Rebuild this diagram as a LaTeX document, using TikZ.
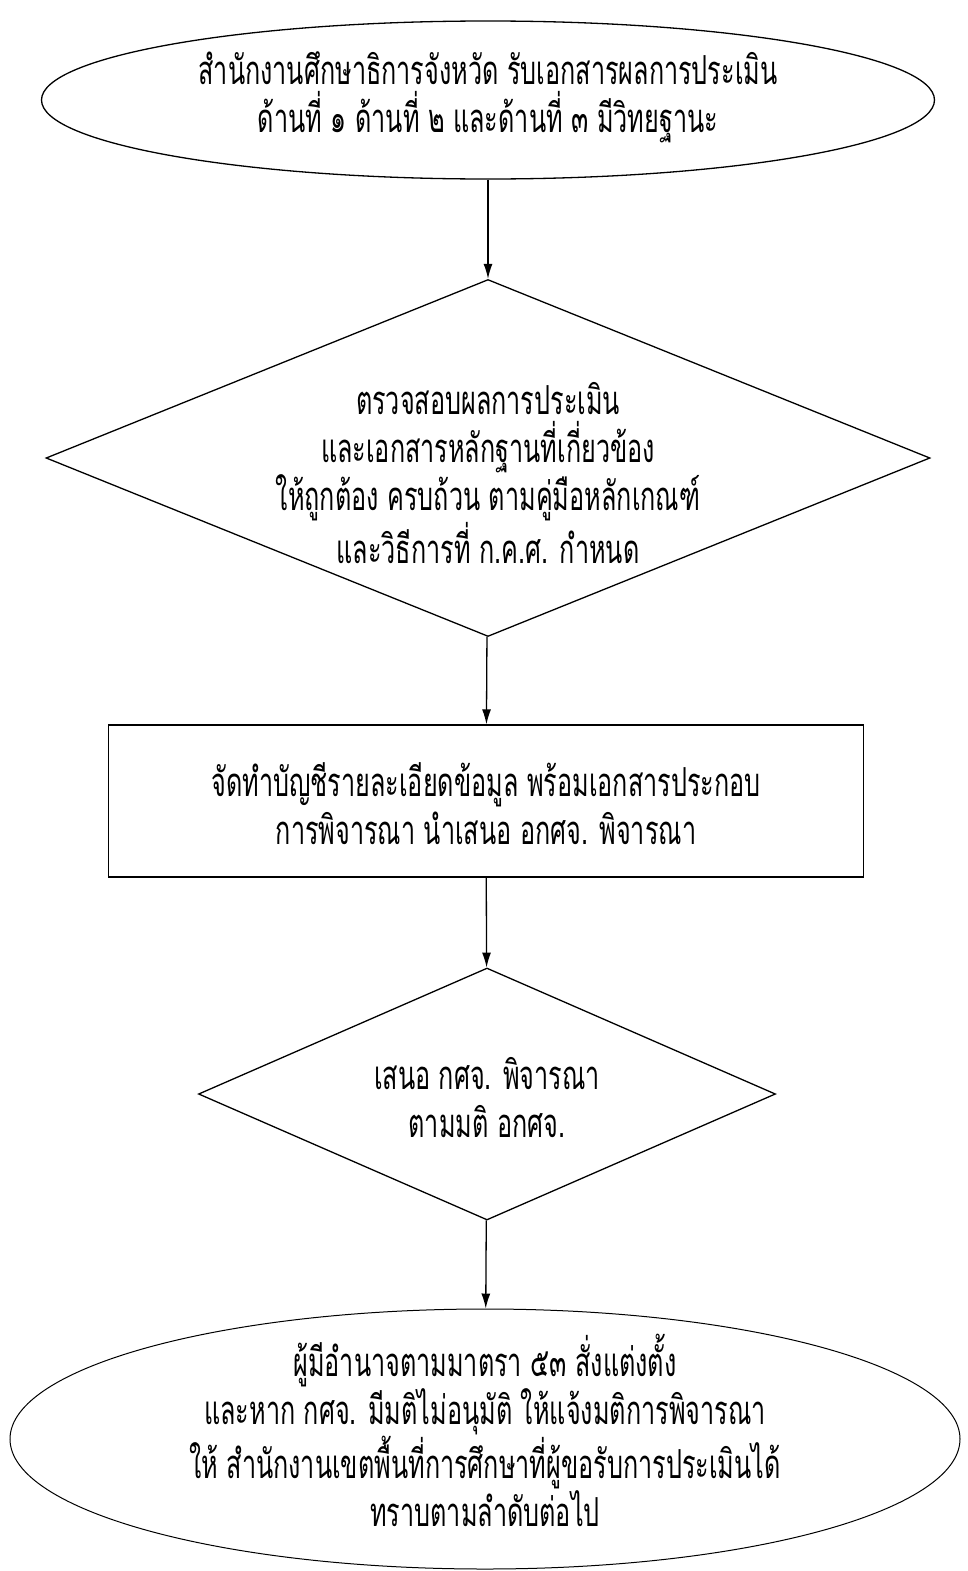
\documentclass[tikz,border=0pt]{standalone}
\usepackage{fontspec}
\newfontfamily\thaifont[Script=Thai,FakeStretch=0.63]{Loma}
\usetikzlibrary{shapes.geometric,arrows.meta}

\begin{document}
\begin{tikzpicture}[x=1pt,y=-1pt,
    box/.style={draw, line width=1.3pt, align=center, inner sep=0pt, text depth=0pt,
        font=\thaifont\fontsize{40}{48}\selectfont},
    lift/.style={text height=#1},
    flow/.style={line width=1.3pt, -{Latex[length=15pt,width=9pt]}}]
        \useasboundingbox (0,0) rectangle (968,1571);
        \node [box, lift=64pt, ellipse, minimum width=893, minimum height=158] (start) at (488,100)
            {สำนักงานศึกษาธิการจังหวัด รับเอกสารผลการประเมิน\\ด้านที่ ๑ ด้านที่ ๒ และด้านที่ ๓ มีวิทยฐานะ};
        \node [box, lift=210pt, inner ysep=-20pt, diamond, aspect=2.48, minimum width=884, minimum height=357] (check) at (488,458)
            {ตรวจสอบผลการประเมิน\\และเอกสารหลักฐานที่เกี่ยวข้อง\\ให้ถูกต้อง ครบถ้วน ตามคู่มือหลักเกณฑ์\\และวิธีการที่ ก.ค.ศ. กำหนด};
        \node [box, lift=86pt, rectangle, minimum width=755, minimum height=152] (list) at (486,801)
            {จัดทำบัญชีรายละเอียดข้อมูล พร้อมเอกสารประกอบ\\การพิจารณา นำเสนอ อกศจ. พิจารณา};
        \node [box, lift=86pt, diamond, aspect=2.29, minimum width=577, minimum height=252] (propose) at (487,1094)
            {เสนอ กศจ. พิจารณา\\ตามมติ อกศจ.};
        \node [box, lift=174pt, ellipse, line width=1pt, minimum width=950, minimum height=260] (end) at (485,1439)
            {ผู้มีอำนาจตามมาตรา ๕๓ สั่งแต่งตั้ง\\และหาก กศจ. มีมติไม่อนุมัติ ให้แจ้งมติการพิจารณา\\ให้ สำนักงานเขตพื้นที่การศึกษาที่ผู้ขอรับการประเมินได้\\ทราบตามลำดับต่อไป};
        \draw [flow] (start) -- (check);
        \draw [flow] (check) -- (list);
        \draw [flow] (list) -- (propose);
        \draw [flow] (propose) -- (end);
    \end{tikzpicture}
\end{document}
